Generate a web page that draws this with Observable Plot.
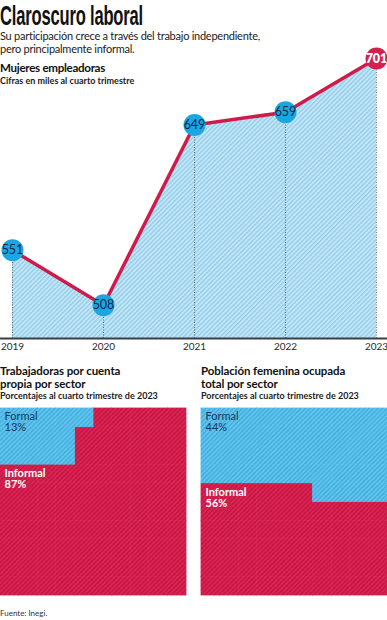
<!DOCTYPE html>
<html>
<head>
<meta charset="utf-8">
<script src="https://cdn.jsdelivr.net/npm/d3@7"></script>
<script src="https://cdn.jsdelivr.net/npm/@observablehq/plot@0.6"></script>
<style>
  html, body { margin: 0; padding: 0; background: #fff; }
  #page { position: relative; width: 387px; height: 620px; overflow: hidden; font-family: Lato, "Open Sans", sans-serif; color: #1a1a1a; }
  .abs { position: absolute; left: 0; white-space: nowrap; }
  #title { top: 0px; font-family: "Liberation Sans Narrow", "Liberation Sans", Arial, sans-serif; font-weight: 700; font-size: 28px; line-height: 31px; letter-spacing: -0.3px; transform: scaleX(0.6); transform-origin: left top; color: #111; }
  #subtitle { top: 30px; font-size: 11px; line-height: 12.5px; letter-spacing: -0.25px; color: #222; }
  .h { font-weight: 700; font-size: 11.5px; line-height: 13px; letter-spacing: -0.1px; color: #111; }
  .s { font-weight: 700; font-size: 9px; line-height: 11px; color: #222; }
  #fuente { top: 608px; font-size: 8px; color: #333; }
</style>
</head>
<body>
<svg width="0" height="0" style="position:absolute">
  <defs>
    <pattern id="hatchArea" patternUnits="userSpaceOnUse" width="3.2" height="3.2" patternTransform="rotate(45)">
      <rect width="3.2" height="3.2" fill="#c2e5f6"></rect>
      <rect width="1.2" height="3.2" fill="#8fcbe8"></rect>
    </pattern>
    <pattern id="hatchBlue" patternUnits="userSpaceOnUse" width="3.2" height="3.2" patternTransform="rotate(45)">
      <rect width="3.2" height="3.2" fill="#5cc4ee"></rect>
      <rect width="1.2" height="3.2" fill="#43aad9"></rect>
    </pattern>
    <pattern id="hatchRed" patternUnits="userSpaceOnUse" width="3.2" height="3.2" patternTransform="rotate(45)">
      <rect width="3.2" height="3.2" fill="#da2252"></rect>
      <rect width="1.2" height="3.2" fill="#c0163f"></rect>
    </pattern>
  </defs>
</svg>
<div id="page">
  <div id="title" class="abs">Claroscuro laboral</div>
  <div id="subtitle" class="abs">Su participación crece a través del trabajo independiente,<br>pero principalmente informal.</div>
  <div class="abs h" style="top:61px; font-size:11.6px; letter-spacing:-0.3px">Mujeres empleadoras</div>
  <div class="abs s" style="top:75px">Cifras en miles al cuarto trimestre</div>
  <div id="line" class="abs" style="top:40px"></div>

  <div class="abs h" style="top:364px">Trabajadoras por cuenta<br>propia por sector</div>
  <div class="abs s" style="top:390px">Porcentajes al cuarto trimestre de 2023</div>
  <div class="abs h" style="top:364px; left:201px">Población femenina ocupada<br>total por sector</div>
  <div class="abs s" style="top:390px; left:201px">Porcentajes al cuarto trimestre de 2023</div>
  <div id="w1" class="abs" style="top:408px; left:0px"></div>
  <div id="w2" class="abs" style="top:408px; left:201px"></div>

  <div id="fuente" class="abs">Fuente: Inegi.</div>
</div>
<script>
// ---- Data ----
const years = [2019, 2020, 2021, 2022, 2023];
const empleadoras = [551, 508, 649, 659, 701];
const yearTicks = ["2019", "2020", "2021", "2022", "2023"];

const sectors = ["Formal", "Informal"];
const cuentaPropia = [13, 87];     // % trabajadoras por cuenta propia
const poblacionTotal = [44, 56];   // % población femenina ocupada

// fit the condensed title to its width in the reference
function fitTitle() {
  const t = document.getElementById("title");
  const w = t.offsetWidth;
  if (w > 0) t.style.transform = `scaleX(${143 / w})`;
}
fitTitle();
if (document.fonts && document.fonts.ready) document.fonts.ready.then(fitTitle);

// ---- Line / area chart ----
const data = years.map((year, i) => ({year, value: empleadoras[i], last: i === years.length - 1}));
const base = 482;
const lineChart = Plot.plot({
  width: 387, height: 320,
  marginLeft: 12, marginRight: 11, marginTop: 18, marginBottom: 22,
  x: {domain: [years[0], years[years.length - 1]], ticks: years, tickFormat: d => yearTicks[years.indexOf(d)], tickSize: 0, tickPadding: 4, label: null},
  y: {domain: [base, d3.max(empleadoras)], axis: null},
  style: {fontFamily: "Lato, sans-serif", fontSize: "10px", color: "#2a2a2a", overflow: "visible", background: "transparent"},
  marks: [
    Plot.areaY(data, {x: "year", y1: base, y2: "value", fill: "url(#hatchArea)"}),
    Plot.ruleX(data, {x: "year", y1: base, y2: "value", stroke: "#4a5560", strokeWidth: 0.8, strokeDasharray: "1,1.5"}),
    Plot.ruleY([base], {stroke: "#3a3f44", strokeWidth: 2.2, insetLeft: -12, insetRight: -11}),
    Plot.line(data, {x: "year", y: "value", stroke: "#d01a49", strokeWidth: 3.5}),
    Plot.dot(data.filter(d => !d.last), {x: "year", y: "value", r: 11, fill: "#1aa6e2"}),
    Plot.dot(data.filter(d => d.last), {x: "year", y: "value", r: 11, fill: "#d61f4f"}),
    Plot.text(data.filter(d => !d.last), {x: "year", y: "value", text: d => String(d.value), fill: "#0d2a4a", fontSize: 12.5, fontFamily: "Lato, sans-serif"}),
    Plot.text(data.filter(d => d.last), {x: "year", y: "value", text: d => String(d.value), fill: "#ffffff", fontSize: 12.5, fontWeight: 800, fontFamily: "Lato, sans-serif"})
  ]
});
document.getElementById("line").appendChild(lineChart);

// ---- Waffle panels (10 x 10 cells) ----
function waffle(values, order) {
  const n = values[0]; // formal count
  const seq = order();
  const cells = seq.map(([col, row], i) => ({col, row, cat: i < n ? sectors[0] : sectors[1]}));
  const firstInformalRow = d3.min(cells.filter(c => c.cat === sectors[1] && c.col === 0), c => c.row);
  const labels = [
    {x: 0, y: 0, text: `${sectors[0]}\n${values[0]}%`, cat: sectors[0]},
    {x: 0, y: firstInformalRow, text: `${sectors[1]}\n${values[1]}%`, cat: sectors[1]}
  ];
  return Plot.plot({
    width: 186, height: 187, margin: 0,
    x: {domain: [0, 10], axis: null},
    y: {domain: [0, 10], reverse: true, axis: null},
    style: {overflow: "visible", background: "transparent"},
    marks: [
      Plot.rect(cells.filter(c => c.cat === sectors[1]), {x1: "col", x2: c => c.col + 1, y1: "row", y2: c => c.row + 1, fill: "url(#hatchRed)", stroke: "url(#hatchRed)", strokeWidth: 0.8}),
      Plot.rect(cells.filter(c => c.cat === sectors[0]), {x1: "col", x2: c => c.col + 1, y1: "row", y2: c => c.row + 1, fill: "url(#hatchBlue)", stroke: "url(#hatchBlue)", strokeWidth: 0.8}),
      Plot.text(labels.filter(l => l.cat === sectors[0]), {x: "x", y: "y", text: "text", textAnchor: "start", lineAnchor: "top", dx: 4, dy: 3, lineHeight: 1.05, fontSize: 11, fill: "#163a5e", fontFamily: "Lato, sans-serif"}),
      Plot.text(labels.filter(l => l.cat === sectors[1]), {x: "x", y: "y", text: "text", textAnchor: "start", lineAnchor: "top", dx: 4, dy: 4, lineHeight: 1.05, fontSize: 11, fontWeight: 700, fill: "#ffffff", fontFamily: "Lato, sans-serif"})
    ]
  });
}
// left panel: fill columns of three cells, left to right
const orderLeft = () => {
  const s = [];
  for (let c = 0; c < 10; c++) for (let r = 0; r < 3; r++) s.push([c, r]);
  for (let r = 3; r < 10; r++) for (let c = 0; c < 10; c++) s.push([c, r]);
  return s;
};
// right panel: fill rows from the top, right to left
const orderRight = () => {
  const s = [];
  for (let r = 0; r < 10; r++) for (let c = 9; c >= 0; c--) s.push([c, r]);
  return s;
};
document.getElementById("w1").appendChild(waffle(cuentaPropia, orderLeft));
document.getElementById("w2").appendChild(waffle(poblacionTotal, orderRight));
</script>
</body>
</html>
